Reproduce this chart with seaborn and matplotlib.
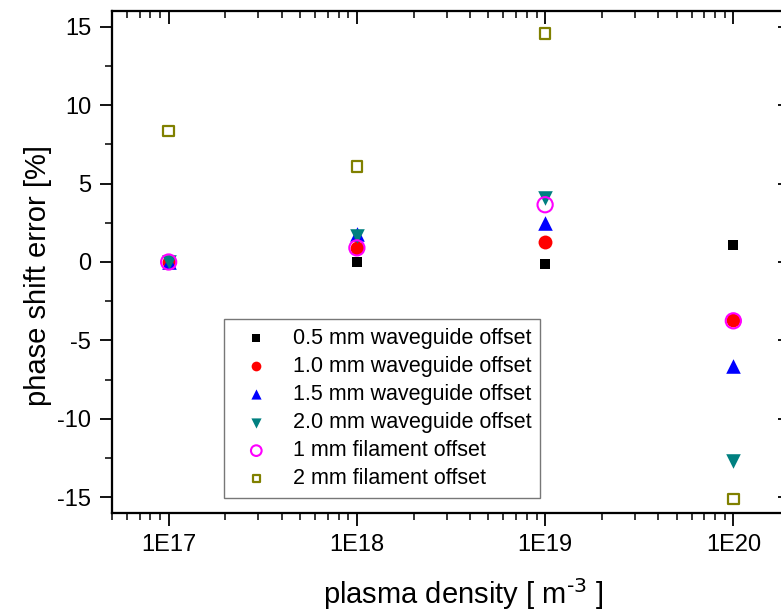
import numpy as np
import pandas as pd
import seaborn as sns
import matplotlib.pyplot as plt
from matplotlib.ticker import LogLocator, MultipleLocator, NullFormatter, FixedLocator, FixedFormatter

# plasma density points and phase shift error [%] per offset case
density = [1e17, 1e18, 1e19, 1e20]
wg_05 = [0.0, 0.0, -0.1, 1.1]
wg_10 = [0.0, 0.9, 1.3, -3.7]
wg_15 = [0.0, 1.8, 2.5, -6.65]
wg_20 = [0.0, 1.65, 4.1, -12.7]
fil_1 = [0.0, 0.9, 3.65, -3.75]
fil_2 = [8.35, 6.1, 14.55, -15.1]

labels = ['0.5 mm waveguide offset', '1.0 mm waveguide offset',
          '1.5 mm waveguide offset', '2.0 mm waveguide offset',
          '1 mm filament offset', '2 mm filament offset']
xtick_labels = ['1E17', '1E18', '1E19', '1E20']
series = [wg_05, wg_10, wg_15, wg_20, fil_1, fil_2]

rows = []
for lab, vals in zip(labels, series):
    for d, v in zip(density, vals):
        rows.append({'density': d, 'error': v, 'case': lab})
df = pd.DataFrame(rows)

sns.set_style('ticks')
plt.rcParams['font.family'] = ['Liberation Sans', 'DejaVu Sans']
plt.rcParams['axes.unicode_minus'] = False
for k in ['text.color', 'axes.labelcolor', 'xtick.color', 'ytick.color', 'axes.edgecolor']:
    plt.rcParams[k] = 'black'

fig = plt.figure(figsize=(7.81, 6.12), dpi=100)
ax = fig.add_axes([112/781, 1-513/612, (790-112)/781, (513-11)/612])

# marker style per case: marker, size, face, edge, linewidth
styles = {
    labels[0]: ('s', 55, 'black', 'black', 0),
    labels[1]: ('o', 100, 'red', 'red', 0),
    labels[2]: ('^', 110, 'blue', 'blue', 0),
    labels[3]: ('v', 110, '#008080', '#008080', 0),
    labels[4]: ('o', 120, 'none', '#FF00FF', 1.5),
    labels[5]: ('s', 58, 'none', '#808000', 1.6),
}

for lab in labels:
    m, s, fc, ec, lw = styles[lab]
    sub = df[df.case == lab]
    sns.scatterplot(data=sub, x='density', y='error', ax=ax, marker=m, s=s,
                    facecolor=fc, edgecolor=ec, linewidth=lw, label=lab)

xlim = (5e16, 2e20)
ylim = (-16, 16)
ax.set_xscale('log')
ax.set_xlim(*xlim)
ax.set_ylim(*ylim)

ax.xaxis.set_major_locator(FixedLocator(density))
ax.xaxis.set_major_formatter(FixedFormatter(xtick_labels))
ax.xaxis.set_minor_locator(LogLocator(base=10, subs=np.arange(2, 10)))
ax.xaxis.set_minor_formatter(NullFormatter())
ax.yaxis.set_major_locator(MultipleLocator(5))
ax.yaxis.set_minor_locator(MultipleLocator(2.5))

ax.tick_params(which='major', length=9, width=1.3, labelsize=17, pad=6, direction='out')
ax.tick_params(which='minor', length=5, width=1.1, direction='out')
for sp in ax.spines.values():
    sp.set_linewidth(1.5)
    sp.set_visible(True)

# mirrored ticks pointing inward on top and right
axt = ax.twiny()
axt.set_xscale('log')
axt.set_xlim(*xlim)
axt.xaxis.set_major_locator(FixedLocator(density))
axt.xaxis.set_minor_locator(LogLocator(base=10, subs=np.arange(2, 10)))
axt.xaxis.set_minor_formatter(NullFormatter())
axt.tick_params(which='major', length=9, width=1.3, direction='in', labeltop=False)
axt.tick_params(which='minor', length=5, width=1.1, direction='in')

axr = ax.twinx()
axr.set_ylim(*ylim)
axr.yaxis.set_major_locator(MultipleLocator(5))
axr.yaxis.set_minor_locator(MultipleLocator(2.5))
axr.tick_params(which='major', length=9, width=1.3, direction='in', labelright=False)
axr.tick_params(which='minor', length=5, width=1.1, direction='in')
for a in (axt, axr):
    for sp in a.spines.values():
        sp.set_linewidth(1.5)

ax.set_xlabel('plasma density [ m$^{\\text{-3}}$ ]', fontsize=21)
ax.xaxis.set_label_coords(0.518, -0.125)
ax.set_ylabel('phase shift error [%]', fontsize=21)
ax.yaxis.set_label_coords(-0.088, 0.474)

leg = ax.legend(loc='lower left', bbox_to_anchor=((224-112)/678, (513-498)/502),
                fontsize=15.5, frameon=True, fancybox=False, edgecolor='#555555',
                handlelength=2.2, handletextpad=0.6, labelspacing=0.33,
                borderpad=0.4, borderaxespad=0, markerscale=0.7)
leg.get_frame().set_linewidth(1.0)

fig.savefig('out.png', dpi=100)
